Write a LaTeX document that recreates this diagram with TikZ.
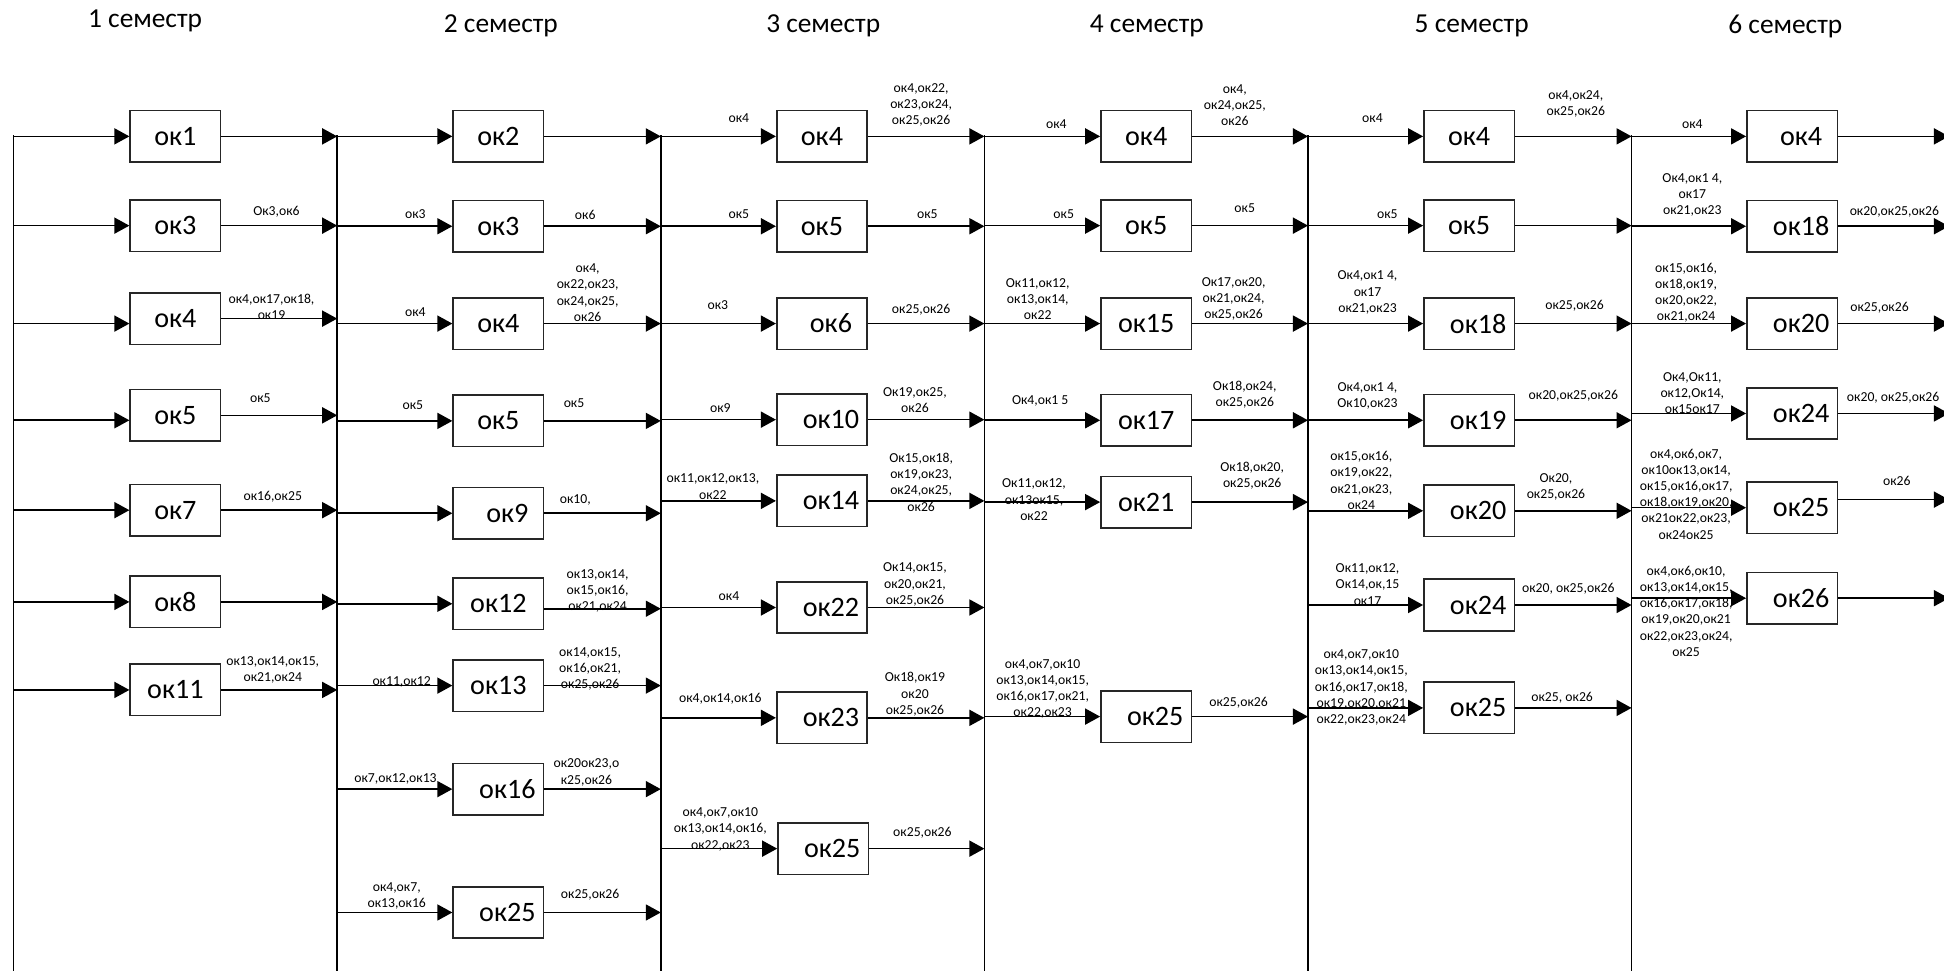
\documentclass[tikz,border=0pt]{standalone}
\usepackage{fontspec}
\setmainfont{Carlito}
\usetikzlibrary{arrows.meta}
\tikzset{>={Triangle[length=1.5mm,width=1.6mm]},
  box/.style={draw=black!85, line width=0.45pt, minimum width=9.05mm, minimum height=5.15mm,
    inner sep=0pt, font=\fontsize{8}{9}\selectfont},
  boxr/.style={box, execute at begin node={\hspace*{1.8mm}}},
  lbl/.style={inner sep=0pt, align=center, font=\fontsize{3.9}{4.6}\selectfont},
  sem/.style={inner sep=0pt, font=\fontsize{7.8}{9}\selectfont},
  bus/.style={line width=0.45pt},
  arr/.style={->, line width=0.45pt}}

\begin{document}
\begin{tikzpicture}[x=0.12398mm, y=-0.12398mm]
\useasboundingbox (0,0) rectangle (1568,783);

% buses
\foreach \n/\x in {0/11,1/272,2/533,3/794,4/1055,5/1316} {
  \coordinate (v\n) at (\x,109);
  \coordinate (w\n) at (\x,790);
  \draw[bus] (v\n) -- (w\n);
}
\coordinate (v6) at (1572,109);

\node[sem] (h1) at (117,17) {1 семестр};
\node[sem] (h2) at (404,21) {2 семестр};
\node[sem] (h3) at (664,21) {3 семестр};
\node[sem] (h4) at (925,21) {4 семестр};
\node[sem] (h5) at (1187,21) {5 семестр};
\node[sem] (h6) at (1440,21) {6 семестр};

% 1 семестр
\node[box] (a1) at (141.5,110) {ок1};
\node[box] (a3) at (141.5,182) {ок3};
\node[box] (a4) at (141.5,257) {ок4};
\node[box] (a5) at (141.5,335) {ок5};
\node[box] (a7) at (141.5,411.5) {ок7};
\node[box] (a8) at (141.5,485.5) {ок8};
\node[box] (a11) at (141.5,556.5) {ок11};
\coordinate (a4i) at (11,261);
\coordinate (a5i) at (11,339);
\foreach \k in {1,3,7,8,11} \draw[arr] (a\k.west -| v0) -- (a\k.west);
\draw[arr] (a4i) -- (a4i -| a4.west);
\draw[arr] (a5i) -- (a5i -| a5.west);
\foreach \k in {1,3,4,5,7,8,11} \draw[arr] (a\k.east) -- (a\k.east -| v1);

\node[lbl] (oa3) at (223,171) {Ок3,ок6};
\node[lbl] (oa4) at (219,247.5) {ок4,ок17,ок18,\\ок19};
\node[lbl] (oa5) at (210,321) {ок5};
\node[lbl] (oa7) at (220,401) {ок16,ок25};
\node[lbl] (oa11) at (220,540.5) {ок13,ок14,ок15,\\ок21,ок24};

% 2 семестр
\node[box] (b2) at (402,110) {ок2};
\node[box] (b3) at (402,182.5) {ок3};
\node[box] (b4) at (402,261) {ок4};
\node[box] (b5) at (402,339.5) {ок5};
\node[boxr] (b9) at (402,414) {ок9};
\node[box] (b12) at (402,487) {ок12};
\node[box] (b13) at (402,553) {ок13};
\node[boxr] (b16) at (402,636.5) {ок16};
\node[boxr] (b25) at (402,736) {ок25};
\coordinate (b12o) at (533,491);
\foreach \k in {2,3,4,5,9,12,13,16,25} \draw[arr] (b\k.west -| v1) -- (b\k.west);
\foreach \k in {2,3,4,5,9,13,16,25} \draw[arr] (b\k.east) -- (b\k.east -| v2);
\draw[arr] (b12o -| b12.east) -- (b12o);

\node[lbl] (ib3) at (335,173) {ок3};
\node[lbl] (ib4) at (335,252) {ок4};
\node[lbl] (ib5) at (333,327) {ок5};
\node[lbl] (ib13) at (324,550) {ок11,ок12};
\node[lbl] (ib16) at (319,628) {ок7,ок12,ок13};
\node[lbl] (ib25) at (320,722.5) {ок4,ок7,\\ок13,ок16};
\node[lbl] (ob3) at (472,173) {ок6};
\node[lbl] (ob4) at (474,236) {ок4,\\ок22,ок23,\\ок24,ок25,\\ок26};
\node[lbl] (ob5) at (463,325) {ок5};
\node[lbl] (ob9) at (464,403) {ок10,};
\node[lbl] (ob12) at (482,476.5) {ок13,ок14,\\ок15,ок16,\\ок21,ок24};
\node[lbl] (ob13) at (476,539.5) {ок14,ок15,\\ок16,ок21,\\ок25,ок26};
\node[lbl] (ob16) at (473,623) {ок20ок23,о\\к25,ок26};
\node[lbl] (ob25) at (476,722) {ок25,ок26};

% 3 семестр
\node[box] (c4) at (663,110) {ок4};
\node[box] (c5) at (663,182.5) {ок5};
\node[boxr] (c6) at (663,261) {ок6};
\node[boxr] (c10) at (663,338.5) {ок10};
\node[boxr] (c14) at (663,404) {ок14};
\node[boxr] (c22) at (663,490) {ок22};
\node[boxr] (c23) at (663,579) {ок23};
\node[boxr] (c25) at (664,684.5) {ок25};
\foreach \k in {4,5,6,10,14,22,23,25} {
  \draw[arr] (c\k.west -| v2) -- (c\k.west);
  \draw[arr] (c\k.east) -- (c\k.east -| v3);
}

\node[lbl] (ic4) at (596,95) {ок4};
\node[lbl] (ic5) at (596,173) {ок5};
\node[lbl] (ic6) at (579,246) {ок3};
\node[lbl] (ic10) at (581,329) {ок9};
\node[lbl] (ic14) at (575,392.5) {ок11,ок12,ок13,\\ок22};
\node[lbl] (ic22) at (588,481) {ок4};
\node[lbl] (ic23) at (581,564) {ок4,ок14,ок16};
\node[lbl] (ic25) at (581,669) {ок4,ок7,ок10\\ок13,ок14,ок16,\\ок22,ок23};
\node[lbl] (oc4) at (743,84.5) {ок4,ок22,\\ок23,ок24,\\ок25,ок26};
\node[lbl] (oc5) at (748,173) {ок5};
\node[lbl] (oc6) at (743,250) {ок25,ок26};
\node[lbl] (oc10) at (738,322.5) {Ок19,ок25,\\ок26};
\node[lbl] (oc14) at (743,389) {Ок15,ок18,\\ок19,ок23,\\ок24,ок25,\\ок26};
\node[lbl] (oc22) at (738,471.5) {Ок14,ок15,\\ок20,ок21,\\ок25,ок26};
\node[lbl] (oc23) at (738,560) {Ок18,ок19\\ок20\\ок25,ок26};
\node[lbl] (oc25) at (744,672) {ок25,ок26};

% 4 семестр
\node[box] (d4) at (924.5,110) {ок4};
\node[box] (d5) at (924.5,182) {ок5};
\node[box] (d15) at (924.5,261) {ок15};
\node[box] (d17) at (924.5,339) {ок17};
\node[box] (d21) at (924.5,405) {ок21};
\node[boxr] (d25) at (924.5,578) {ок25};
\foreach \k in {4,5,15,17,21,25} {
  \draw[arr] (d\k.west -| v3) -- (d\k.west);
  \draw[arr] (d\k.east) -- (d\k.east -| v4);
}

\node[lbl] (id4) at (852,100) {ок4};
\node[lbl] (id5) at (858,173) {ок5};
\node[lbl] (id15) at (837,241) {Ок11,ок12,\\ок13,ок14,\\ок22};
\node[lbl] (id17) at (839,323) {Ок4,ок1 5};
\node[lbl] (id21) at (834,403) {Ок11,ок12,\\ок13ок15,\\ок22};
\node[lbl] (id25) at (841,555.5) {ок4,ок7,ок10\\ок13,ок14,ок15,\\ок16,ок17,ок21,\\ок22,ок23};
\node[lbl] (od4) at (996,85) {ок4,\\ок24,ок25,\\ок26};
\node[lbl] (od5) at (1004,168) {ок5};
\node[lbl] (od15) at (995,241) {Ок17,ок20,\\ок21,ок24,\\ок25,ок26};
\node[lbl] (od17) at (1004,318.5) {Ок18,ок24,\\ок25,ок26};
\node[lbl] (od21) at (1010,383.5) {Ок18,ок20,\\ок25,ок26};
\node[lbl] (od25) at (999,567) {ок25,ок26};

% 5 семестр
\node[box] (e4) at (1185,110) {ок4};
\node[box] (e5) at (1185,182) {ок5};
\node[boxr] (e18) at (1185,261) {ок18};
\node[boxr] (e19) at (1185,339) {ок19};
\node[boxr] (e20) at (1185,412) {ок20};
\node[boxr] (e24) at (1185,488) {ок24};
\node[boxr] (e25) at (1185,571) {ок25};
\foreach \k in {4,5,18,19,20,24,25} {
  \draw[arr] (e\k.west -| v4) -- (e\k.west);
  \draw[arr] (e\k.east) -- (e\k.east -| v5);
}

\node[lbl] (ie4) at (1107,95) {ок4};
\node[lbl] (ie5) at (1119,173) {ок5};
\node[lbl] (ie18) at (1103,236) {Ок4,ок1 4,\\ок17\\ок21,ок23};
\node[lbl] (ie19) at (1103,319.5) {Ок4,ок1 4,\\Ок10,ок23};
\node[lbl] (ie20) at (1098,387.5) {ок15,ок16,\\ок19,ок22,\\ок21,ок23,\\ок24};
\node[lbl] (ie24) at (1103,471.5) {Ок11,ок12,\\Ок14,ок,15\\ок17};
\node[lbl] (ie25) at (1098,554.5) {ок4,ок7,ок10\\ок13,ок14,ок15,\\ок16,ок17,ок18,\\ок19,ок20,ок21\\ок22,ок23,ок24};
\node[lbl] (oe4) at (1271,83.5) {ок4,ок24,\\ок25,ок26};
\node[lbl] (oe18) at (1270,247) {ок25,ок26};
\node[lbl] (oe19) at (1269,319) {ок20,ок25,ок26};
\node[lbl] (oe20) at (1255,392.5) {Ок20,\\ок25,ок26};
\node[lbl] (oe24) at (1265,475) {ок20, ок25,ок26};
\node[lbl] (oe25) at (1260,563) {ок25, ок26};

% 6 семестр
\node[boxr] (f4) at (1445.5,110) {ок4};
\node[boxr] (f18) at (1445.5,182.5) {ок18};
\node[boxr] (f20) at (1445.5,261) {ок20};
\node[boxr] (f24) at (1445.5,333.5) {ок24};
\node[boxr] (f25) at (1445.5,409.5) {ок25};
\node[boxr] (f26) at (1445.5,482.5) {ок26};
\coordinate (f25o) at (1572,403);
\foreach \k in {4,18,20,24,25,26} \draw[arr] (f\k.west -| v5) -- (f\k.west);
\foreach \k in {4,18,20,24,26} \draw[arr] (f\k.east) -- (f\k.east -| v6);
\draw[arr] (f25o -| f25.east) -- (f25o);

\node[lbl] (if4) at (1365,100) {ок4};
\node[lbl] (if18) at (1365,157.5) {Ок4,ок1 4,\\ок17\\ок21,ок23};
\node[lbl] (if20) at (1360,236) {ок15,ок16,\\ок18,ок19,\\ок20,ок22,\\ок21,ок24};
\node[lbl] (if24) at (1365,317) {Ок4,Ок11,\\ок12,Ок14,\\ок15ок17};
\node[lbl] (if25) at (1360,398.5) {ок4,ок6,ок7,\\ок10ок13,ок14,\\ок15,ок16,ок17,\\ок18,ок19,ок20,\\ок21ок22,ок23,\\ок24ок25};
\node[lbl] (if26) at (1360,493) {ок4,ок6,ок10,\\ок13,ок14,ок15,\\ок16,ок17,ок18,\\ок19,ок20,ок21\\ок22,ок23,ок24,\\ок25};
\node[lbl] (of18) at (1528,171) {ок20,ок25,ок26};
\node[lbl] (of20) at (1516,248) {ок25,ок26};
\node[lbl] (of24) at (1527,321) {ок20, ок25,ок26};
\node[lbl] (of25) at (1530,388) {ок26};
\end{tikzpicture}
\end{document}
